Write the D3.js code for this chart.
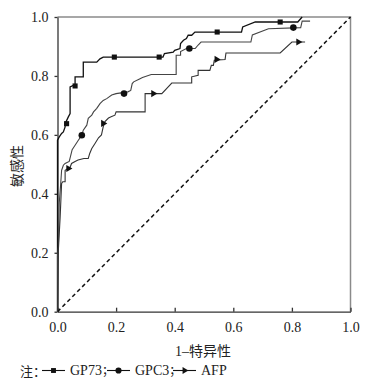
<!DOCTYPE html>
<html>
<head>
<meta charset="utf-8">
<script src="https://cdn.jsdelivr.net/npm/d3@7"></script>
<style>
  body { margin: 0; background: #fff; }
  text { font-family: "Liberation Serif", "Noto Sans CJK SC", serif; }
</style>
</head>
<body>
<div id="roc"></div>
<script>
const width = 370,
      height = 385,
      margin = ({ top: 17, right: 19.5, bottom: 73, left: 57.5 });

// ROC curves, [1-specificity, sensitivity]
const gp73 = [
  [0, 0], [0, 0.582], [0.006, 0.593], [0.014, 0.605], [0.02, 0.61], [0.026, 0.627], [0.026, 0.638],
  [0.037, 0.661], [0.043, 0.672], [0.043, 0.763], [0.054, 0.768], [0.06, 0.768], [0.06, 0.797],
  [0.088, 0.797], [0.088, 0.847], [0.134, 0.847], [0.145, 0.858], [0.156, 0.864], [0.36, 0.864],
  [0.365, 0.876], [0.395, 0.881], [0.40, 0.887], [0.418, 0.893], [0.42, 0.91], [0.43, 0.921],
  [0.44, 0.927], [0.446, 0.938], [0.458, 0.938], [0.469, 0.949], [0.628, 0.949], [0.632, 0.966],
  [0.675, 0.983], [0.82, 0.983], [0.835, 1.0]
];
const gpc3 = [
  [0, 0], [0, 0.19], [0.003, 0.22], [0.006, 0.37], [0.011, 0.435], [0.014, 0.48], [0.02, 0.497],
  [0.026, 0.503], [0.04, 0.51], [0.045, 0.53], [0.05, 0.55], [0.06, 0.565], [0.07, 0.58],
  [0.083, 0.599], [0.088, 0.616], [0.10, 0.633], [0.105, 0.656], [0.117, 0.667], [0.123, 0.678],
  [0.134, 0.69], [0.145, 0.706], [0.156, 0.717], [0.168, 0.723], [0.185, 0.735], [0.20, 0.74],
  [0.24, 0.746], [0.25, 0.751], [0.255, 0.774], [0.26, 0.78], [0.28, 0.79], [0.29, 0.795],
  [0.32, 0.805], [0.405, 0.805], [0.405, 0.87], [0.42, 0.87], [0.42, 0.883], [0.44, 0.893],
  [0.47, 0.893], [0.48, 0.905], [0.49, 0.915], [0.66, 0.915], [0.665, 0.939], [0.72, 0.96],
  [0.83, 0.964], [0.835, 0.986], [0.862, 0.986]
];
const afp = [
  [0, 0], [0.003, 0.21], [0.009, 0.32], [0.014, 0.435], [0.018, 0.441], [0.026, 0.441],
  [0.026, 0.48], [0.043, 0.49], [0.048, 0.503], [0.06, 0.51], [0.07, 0.515], [0.09, 0.52],
  [0.105, 0.52], [0.11, 0.537], [0.117, 0.554], [0.128, 0.571], [0.14, 0.59], [0.15, 0.60],
  [0.156, 0.627], [0.162, 0.645], [0.174, 0.657], [0.185, 0.662], [0.196, 0.667], [0.20, 0.678],
  [0.299, 0.678], [0.299, 0.74], [0.356, 0.74], [0.39, 0.776], [0.458, 0.776], [0.458, 0.797],
  [0.48, 0.802], [0.48, 0.819], [0.52, 0.819], [0.525, 0.836], [0.532, 0.836], [0.535, 0.853],
  [0.572, 0.856], [0.575, 0.878], [0.76, 0.878], [0.80, 0.915], [0.845, 0.915]
];

// marker positions on each curve
const gp73Marks = [[0.031, 0.638], [0.06, 0.766], [0.194, 0.864], [0.347, 0.864], [0.545, 0.949], [0.76, 0.983]];
const gpc3Marks = [[0.083, 0.599], [0.227, 0.74], [0.45, 0.893], [0.805, 0.964]];
const afpMarks = [[0.037, 0.486], [0.156, 0.639], [0.327, 0.74], [0.543, 0.856], [0.822, 0.915]];

const ticks = [0, 0.2, 0.4, 0.6, 0.8, 1.0];

const svg = d3.select("#roc")
  .append("svg")
  .attr("width", width)
  .attr("height", height);

let x = d3.scaleLinear()
  .domain([0, 1])
  .range([margin.left, width - margin.right]);

let y = d3.scaleLinear()
  .domain([0, 1])
  .range([height - margin.bottom - 0.3, margin.top]);

// grey box on top / right
svg.append("path")
  .attr("d", `M${x(0)},${y(1)}H${x(1)}V${y(0)}`)
  .attr("fill", "none")
  .attr("stroke", "#8a8a8a")
  .attr("stroke-width", 1.5);

svg.append("g")
  .attr("transform", `translate(0,${y(0)})`)
  .call(d3.axisBottom(x).tickValues(ticks).tickFormat(d3.format(".1f"))
    .tickSize(-4).tickSizeOuter(0).tickPadding(10))
  .call(g => g.selectAll("text").attr("font-size", 14).attr("fill", "#222").attr("font-family", "Liberation Serif"))
  .call(g => g.selectAll("line, path").attr("stroke", "#333").attr("stroke-width", 1.3));

svg.append("g")
  .attr("transform", `translate(${x(0)},0)`)
  .call(d3.axisLeft(y).tickValues(ticks).tickFormat(d3.format(".1f"))
    .tickSize(3).tickSizeOuter(0).tickPadding(6))
  .call(g => g.selectAll("text").attr("font-size", 14).attr("fill", "#222").attr("font-family", "Liberation Serif"))
  .call(g => g.selectAll("line, path").attr("stroke", "#333").attr("stroke-width", 1.3));

// reference diagonal
svg.append("line")
  .attr("x1", x(0)).attr("y1", y(0))
  .attr("x2", x(1)).attr("y2", y(1))
  .attr("stroke", "#111")
  .attr("stroke-width", 1.5)
  .attr("stroke-dasharray", "4,3");

let line = d3.line()
  .x(d => x(d[0]))
  .y(d => y(d[1]));

const series = [
  { data: gp73, marks: gp73Marks, shape: d3.symbolSquare, size: 26, color: "#111", w: 1.3 },
  { data: gpc3, marks: gpc3Marks, shape: d3.symbolCircle, size: 34, color: "#444", w: 1.1 },
  { data: afp, marks: afpMarks, shape: d3.symbolTriangle, size: 22, color: "#333", w: 1.1 }
];

series.forEach(s => {
  svg.append("path")
    .datum(s.data)
    .attr("fill", "none")
    .attr("stroke", s.color)
    .attr("stroke-width", s.w)
    .attr("d", line);

  svg.selectAll(null)
    .data(s.marks)
    .join("path")
    .attr("transform", d => `translate(${x(d[0])},${y(d[1])})` + (s.shape === d3.symbolTriangle ? " rotate(90)" : ""))
    .attr("d", d3.symbol(s.shape, s.size))
    .attr("fill", "#111");
});

// axis titles
svg.append("text")
  .attr("x", 203)
  .attr("y", 356)
  .attr("text-anchor", "middle")
  .attr("font-size", 14)
  .attr("fill", "#222")
  .text("1–特异性");

svg.append("text")
  .attr("transform", "translate(22,166) rotate(-90)")
  .attr("text-anchor", "middle")
  .attr("font-size", 14)
  .attr("fill", "#222")
  .text("敏感性");

// legend note
const legend = [
  { label: "GP73", sep: "；", shape: d3.symbolSquare, size: 24, x0: 42 },
  { label: "GPC3", sep: "；", shape: d3.symbolCircle, size: 30, x0: 107 },
  { label: "AFP", sep: "", shape: d3.symbolTriangle, size: 20, x0: 173 }
];
const ly = 375;

svg.append("text")
  .attr("x", 20)
  .attr("y", ly + 0.5)
  .attr("font-size", 13)
  .attr("fill", "#222")
  .attr("font-family", "Noto Sans CJK SC")
  .text("注：");

legend.forEach(l => {
  svg.append("line")
    .attr("x1", l.x0).attr("x2", l.x0 + 23)
    .attr("y1", ly - 4.5).attr("y2", ly - 4.5)
    .attr("stroke", "#111")
    .attr("stroke-width", 1.1);
  svg.append("path")
    .attr("transform", `translate(${l.x0 + 11.5},${ly - 4.5})` + (l.shape === d3.symbolTriangle ? " rotate(90)" : ""))
    .attr("d", d3.symbol(l.shape, l.size))
    .attr("fill", "#111");
  let t = svg.append("text")
    .attr("x", l.x0 + 28)
    .attr("y", ly)
    .attr("font-size", 14)
    .attr("fill", "#222")
    .text(l.label);
  t.append("tspan")
    .attr("font-family", "Noto Sans CJK SC")
    .attr("font-size", 12)
    .text(l.sep);
});
</script>
</body>
</html>
